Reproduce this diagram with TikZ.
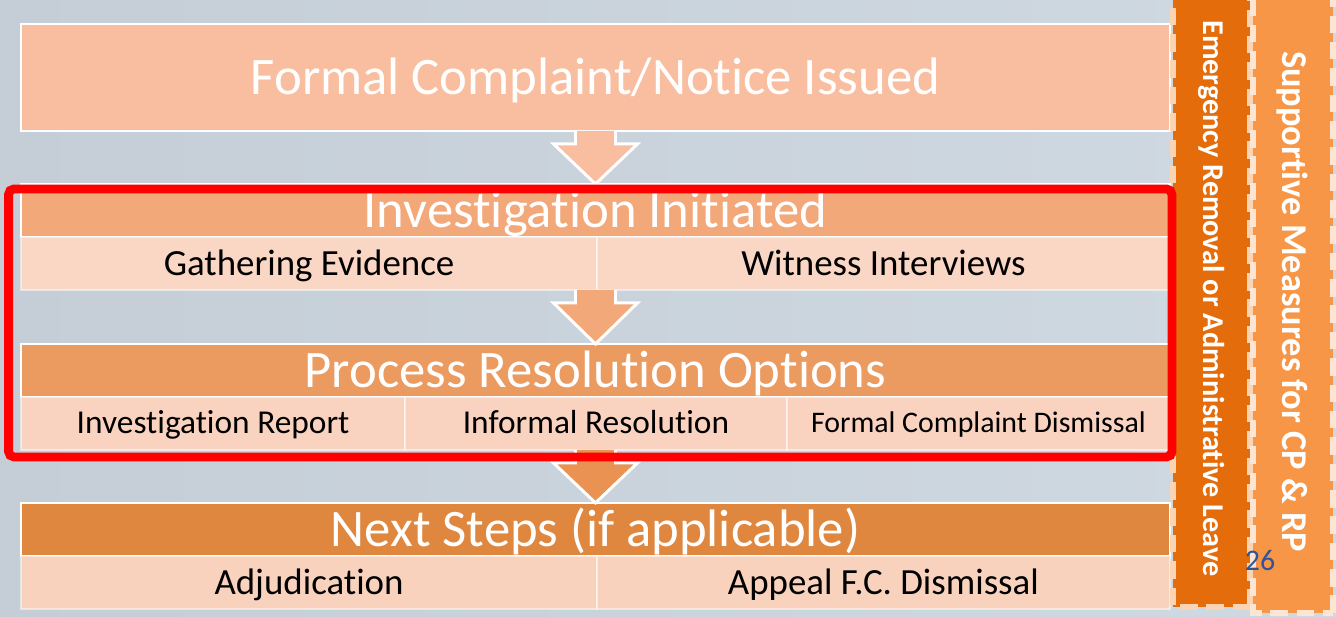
\documentclass[tikz,border=0pt]{standalone}
\usepackage{fontspec}
\setmainfont{Carlito}[RawFeature={-liga;-clig;-calt;-dlig}]
\usetikzlibrary{positioning,calc}
\definecolor{bgl}{RGB}{197,206,214}
\definecolor{bgm}{RGB}{220,231,238}
\definecolor{bgr}{RGB}{207,217,225}
\definecolor{step1}{RGB}{249,190,159}
\definecolor{step2}{RGB}{243,168,122}
\definecolor{step2l}{RGB}{250,214,196}
\definecolor{step3}{RGB}{235,154,96}
\definecolor{step3l}{RGB}{249,211,191}
\definecolor{step4}{RGB}{223,135,63}
\definecolor{step4l}{RGB}{249,210,190}
\definecolor{arr3}{RGB}{233,146,82}
\definecolor{barA}{RGB}{228,108,10}
\definecolor{barAedge}{RGB}{251,212,180}
\definecolor{barB}{RGB}{247,150,70}
\definecolor{barBedge}{RGB}{253,229,212}
\definecolor{numblue}{RGB}{47,85,151}
\tikzset{
  head/.style={draw=white, line width=1.2pt, text=white, font=\fontsize{30}{30}\selectfont, outer sep=0pt,
    minimum width=22.98cm, minimum height=1.06cm, inner sep=0pt, text height=19pt, text depth=0pt},
  cell/.style={draw=white, draw opacity=0.5, line width=0.8pt, font=\fontsize{#1}{#1}\selectfont, minimum height=1.06cm,
    outer sep=0pt, inner sep=0pt, text height=0.63*#1pt, text depth=0pt, anchor=north west},
  blockarrow/.style={draw=white, line width=1.7pt, line join=miter},
  redframe/.style={draw=red, line width=5pt, rounded corners=3pt},
  sidebar/.style={rotate=-90, line width=3.4pt, dash pattern=on 10pt off 5pt, text=white, inner sep=0pt},
}
\begin{document}
\begin{tikzpicture}[x=0.02cm, y=-0.02cm]
  \useasboundingbox (0,0) rectangle (1336,617);
  \shade[left color=bgl, middle color=bgm, right color=bgr] (0,0) rectangle (1336,617);

  \node[head, fill=step1, minimum height=2.14cm] (complaint) at (595.5,77.5) {Formal Complaint/Notice Issued};
  \node[head, fill=step2, below=1.06cm of complaint] (initiated) {Investigation Initiated};
  \node[cell=21, fill=step2l, minimum width=11.52cm] (evidence) at (initiated.south west) {Gathering Evidence};
  \node[cell=21, fill=step2l, minimum width=11.46cm] (witness) at (evidence.north east) {Witness Interviews};
  \node[head, fill=step3, below=2.14cm of initiated] (process) {Process Resolution Options};
  \node[cell=19, fill=step3l, minimum width=7.68cm] (report) at (process.south west) {Investigation Report};
  \node[cell=19, fill=step3l, minimum width=7.64cm] (informal) at (report.north east) {Informal Resolution};
  \node[cell=17, fill=step3l, minimum width=7.66cm] (dismissal) at (informal.north east) {Formal Complaint Dismissal};
  \node[head, fill=step4, below=2.12cm of process] (next) {Next Steps (if applicable)};
  \node[cell=21, fill=step4l, minimum width=11.52cm] (adjudication) at (next.south west) {Adjudication};
  \node[cell=21, fill=step4l, minimum width=11.46cm] (appeal) at (adjudication.north east) {Appeal F.C. Dismissal};

  \coordinate (initbase) at (initiated |- evidence.south);
  \coordinate (procbase) at (process |- report.south);
  \foreach \s/\t/\c in {complaint.south/initiated.north/step1, initbase/process.north/step2, procbase/next.north/arr3}
    \filldraw[blockarrow, fill=\c] ($(\s)+(-20,0)$) -- ($(\s)+(-20,13)$) -- ($(\s)+(-42,13)$) -- (\t)
      -- ($(\s)+(42,13)$) -- ($(\s)+(20,13)$) -- ($(\s)+(20,0)$);

  \node[sidebar, fill=barA, draw=barAedge, minimum width=12.34cm, minimum height=1.54cm,
    font=\bfseries\fontsize{17.2}{17.2}\selectfont] (emergency) at (1211.5,298.5) {Emergency Removal or Administrative Leave};
  \node[sidebar, fill=barB, draw=barBedge, minimum width=12.46cm, minimum height=1.61cm,
    font=\bfseries\fontsize{20.7}{20.7}\selectfont] (supportive) at (1292.75,301.5) {Supportive Measures for CP \& RP};
  \node[text=numblue, font=\fontsize{17}{17}\selectfont] (pagenum) at (1260,561) {26};

  \draw[redframe] ($(initiated.north west)+(-12.5,5)$) rectangle ($(dismissal.south east)+(2,7)$);
\end{tikzpicture}
\end{document}
